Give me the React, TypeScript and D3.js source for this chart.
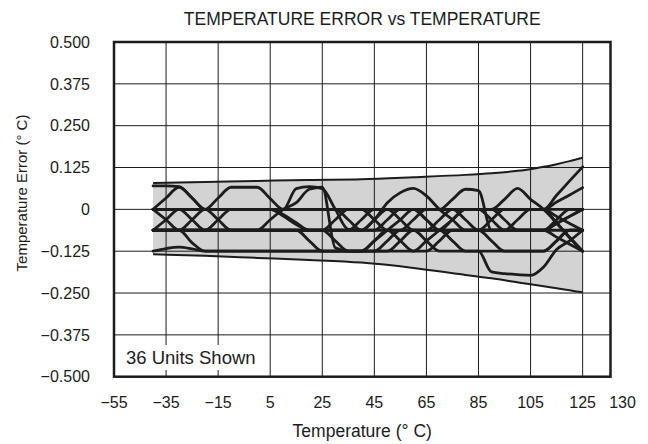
import React from "react";
import * as d3 from "d3";

// Temperature sample points (°C)
const temps = [-40,-35,-30,-25,-20,-15,-10,-5,0,5,10,15,20,25,30,35,40,45,50,55,60,65,70,75,80,85,90,95,100,105,110,115,120,125];

// Temperature error (°C) for representative units
const unit01 = [0.07,0.07,0.068,0.034,0, 0,0,0,0,0, 0,0,0,0,0, 0,0,0,0,0, 0,0,0,0,0, 0,0,0,0,0, 0,0.042,0.085,0.127];
const unit02 = [0,0.034,0.066,0.034,0, 0.034,0.066,0.066,0.066,0.032, 0,0,0,0,0, 0,0,0,0,0, 0,0,0,0,0, 0,0,0,0,0, 0,0.022,0.043,0.065];
const unit03 = [0,0,0,0,0, 0,0,0,0,0, 0,0.062,0.068,0.062,0, -0.06,-0.0625,-0.031,0,0, 0,0,0,0.03,0.06, 0.056,-0.0625,-0.0625,-0.0625,-0.0625, -0.0625,-0.042,-0.021,0];
const unit04 = [0,-0.031,-0.0625,-0.031,0, -0.031,-0.0625,-0.0625,-0.0625,-0.031, 0,0.02,0.06,0.066,-0.115, -0.125,-0.125,-0.125,-0.094,-0.0625, -0.0625,-0.094,-0.125,-0.125,-0.125, -0.125,-0.187,-0.192,-0.195,-0.197, -0.172,-0.12,-0.094,-0.0625];
const unit05 = [-0.0625,-0.031,0,-0.031,-0.0625, -0.031,0,0,0,0, -0.02,-0.045,-0.0625,-0.0625,-0.0625, -0.0625,-0.0625,-0.031,0.02,0.05, 0.0625,0.04,0,-0.031,-0.0625, -0.0625,-0.0625,-0.0625,-0.0625,-0.0625, -0.0625,-0.031,0,0];
const unit06 = [-0.0625,-0.0625,-0.0625,-0.1,-0.125, -0.125,-0.125,-0.125,-0.125,-0.125, -0.125,-0.125,-0.125,-0.125,-0.125, -0.125,-0.125,-0.125,-0.125,-0.094, -0.0625,-0.0625,-0.0625,-0.094,-0.125, -0.125,-0.125,-0.125,-0.125,-0.125, -0.125,-0.094,-0.0625,-0.0625];
const unit07 = [-0.125,-0.117,-0.113,-0.118,-0.125, -0.125,-0.125,-0.125,-0.125,-0.125, -0.125,-0.125,-0.125,-0.125,-0.125, -0.125,-0.125,-0.094,-0.0625,-0.031, 0,0,0,0,0, 0,0,0.03,0.0625,0.03, 0,-0.04,-0.085,-0.125];
const unit08 = [0,0,0,0,0, 0,0,0,0,0, 0,0,0,0,0, 0,0,-0.031,-0.0625,-0.0625, -0.031,0,0,0,-0.031, -0.0625,-0.0625,-0.0625,-0.0625,-0.0625, -0.0625,-0.083,-0.104,-0.125];
const unit09 = [-0.0625,-0.0625,-0.0625,-0.0625,-0.0625, -0.0625,-0.0625,-0.0625,-0.0625,-0.0625, -0.0625,-0.0625,-0.0625,-0.0625,-0.031, 0,0,0,0,-0.031, -0.0625,-0.0625,-0.0625,-0.0625,-0.0625, -0.0625,-0.031,0,0,0, 0,-0.042,-0.083,-0.125];
const unit10 = [-0.0625,-0.0625,-0.0625,-0.0625,-0.0625, -0.0625,-0.0625,-0.0625,-0.0625,-0.0625, -0.0625,-0.0625,-0.094,-0.125,-0.125, -0.125,-0.125,-0.125,-0.125,-0.125, -0.125,-0.094,-0.0625,-0.031,0, 0,-0.031,-0.0625,-0.031,0, 0,0,0,0];
const unit11 = [0,0,0,0,0, 0,0,0,0,0, -0.015,-0.04,-0.0625,-0.0625,-0.0625, -0.0625,-0.0625,-0.0625,-0.0625,-0.0625, -0.0625,-0.0625,-0.031,0,0, 0,0,0,0,0, 0,-0.021,-0.042,-0.0625];
const unit12 = [-0.0625,-0.0625,-0.0625,-0.0625,-0.0625, -0.0625,-0.0625,-0.0625,-0.0625,-0.0625, -0.0625,-0.0625,-0.0625,-0.0625,-0.0625, -0.0625,-0.031,0,0,0, 0,-0.031,-0.0625,-0.0625,-0.0625, -0.0625,-0.0625,-0.0625,-0.0625,-0.0625, -0.0625,-0.042,-0.021,0];
const unit13 = [0,0,0,0,0, 0,0,0,0,0, 0,0,0,0,0, -0.031,-0.0625,-0.0625,-0.031,0, 0,-0.031,-0.0625,-0.031,0, 0,0,-0.031,-0.0625,-0.0625, -0.0625,-0.0625,-0.0625,-0.0625];
const unit14 = [-0.0625,-0.0625,-0.0625,-0.0625,-0.0625, -0.0625,-0.0625,-0.0625,-0.0625,-0.0625, -0.0625,-0.0625,-0.0625,-0.0625,-0.094, -0.125,-0.125,-0.094,-0.0625,-0.094, -0.125,-0.125,-0.094,-0.0625,-0.0625, -0.0625,-0.094,-0.125,-0.125,-0.125, -0.125,-0.094,-0.0625,-0.0625];

const units = [unit01, unit02, unit03, unit04, unit05, unit06, unit07, unit08, unit09, unit10, unit11, unit12, unit13, unit14];

// Min/max envelope
const envTemps = [-40,-20,0,20,40,60,80,90,100,105,110,115,120,125];
const envUpper = [0.079,0.082,0.085,0.088,0.09,0.096,0.103,0.108,0.115,0.12,0.127,0.135,0.144,0.154];
const envLower = [-0.134,-0.139,-0.145,-0.151,-0.159,-0.175,-0.196,-0.206,-0.218,-0.224,-0.23,-0.236,-0.242,-0.248];

// Axes
const xTicks = [-55,-35,-15,5,25,45,65,85,105,125];
const xTickLabels = ["\u221255","\u221235","\u221215","5","25","45","65","85","105","125"];
const xExtraLabel = "130";
const yTicks = [0.5,0.375,0.25,0.125,0,-0.125,-0.25,-0.375,-0.5];
const yTickLabels = ["0.500","0.375","0.250","0.125","0","\u22120.125","\u22120.250","\u22120.375","\u22120.500"];

const title = "TEMPERATURE ERROR vs TEMPERATURE";
const xTitle = "Temperature (\u00B0 C)";
const yTitle = "Temperature Error (\u00B0 C)";
const note = "36 Units Shown";

export default function App() {
  const W = 648, H = 444;
  const left = 114, right = 610.5, top = 42, bottom = 376.7;
  const x = d3.scaleLinear().domain([-55, 135.7]).range([left, right]);
  const y = d3.scaleLinear().domain([-0.5, 0.5]).range([bottom, top]);
  const font = "'Liberation Sans', Arial, Helvetica, sans-serif";

  const line = d3.line<number>()
    .x((_, i) => x(temps[i]))
    .y((d) => y(d))
    .curve(d3.curveMonotoneX);

  const area = d3.area<number>()
    .x((t) => x(t))
    .y0((_, i) => y(envLower[i]))
    .y1((_, i) => y(envUpper[i]))
    .curve(d3.curveMonotoneX);

  const envLine = (vals: number[]) =>
    d3.line<number>().x((t) => x(t)).y((_, i) => y(vals[i])).curve(d3.curveMonotoneX)(envTemps) || "";

  const ink = "#1c1c1c";

  return (
    <svg width={W} height={H} style={{ position: "fixed", left: 0, top: 0, background: "#fff" }} fontFamily={font}>
      <rect x={0} y={0} width={W} height={H} fill="#fff" />
      <text x={(left + right) / 2} y={25} textAnchor="middle" fontSize={17.5} fill={ink}>{title}</text>

      <path d={area(envTemps) || ""} fill="#d3d3d3" stroke="none" />

      {/* grid */}
      {xTicks.slice(1).map((t) => (
        <line key={"gx" + t} x1={x(t)} x2={x(t)} y1={top} y2={bottom} stroke={ink} strokeWidth={1} />
      ))}
      {yTicks.slice(1, -1).map((v) => (
        <line key={"gy" + v} x1={left} x2={right} y1={y(v)} y2={y(v)} stroke={ink} strokeWidth={1} />
      ))}

      {/* note box */}
      <rect x={left + 1} y={345} width={150} height={25} fill="#fff" />
      <text x={126} y={364} fontSize={18.5} fill={ink}>{note}</text>

      {/* data */}
      {units.map((u, i) => (
        <path key={"u" + i} d={line(u) || ""} fill="none" stroke={ink} strokeWidth={2.8} strokeLinejoin="round" strokeLinecap="round" />
      ))}
      <path d={envLine(envUpper)} fill="none" stroke={ink} strokeWidth={2} />
      <path d={envLine(envLower)} fill="none" stroke={ink} strokeWidth={2} />

      {/* frame */}
      <rect x={left} y={top} width={right - left} height={bottom - top} fill="none" stroke={ink} strokeWidth={2.5} />

      {/* y tick labels */}
      {yTicks.map((v, i) => (
        <text key={"yl" + v} x={90} y={y(v)} dy="0.36em" textAnchor="end" fontSize={16} fill={ink}>{yTickLabels[i]}</text>
      ))}
      {/* x tick labels */}
      {xTicks.map((t, i) => (
        <text key={"xl" + t} x={x(t)} y={408} textAnchor="middle" fontSize={16} fill={ink}>{xTickLabels[i]}</text>
      ))}
      <text x={right + 12} y={408} textAnchor="middle" fontSize={16} fill={ink}>{xExtraLabel}</text>

      <text x={(left + right) / 2} y={437} textAnchor="middle" fontSize={17.5} fill={ink}>{xTitle}</text>
      <text transform={`translate(27, 193) rotate(-90)`} textAnchor="middle" fontSize={15} fill={ink}>{yTitle}</text>
    </svg>
  );
}
